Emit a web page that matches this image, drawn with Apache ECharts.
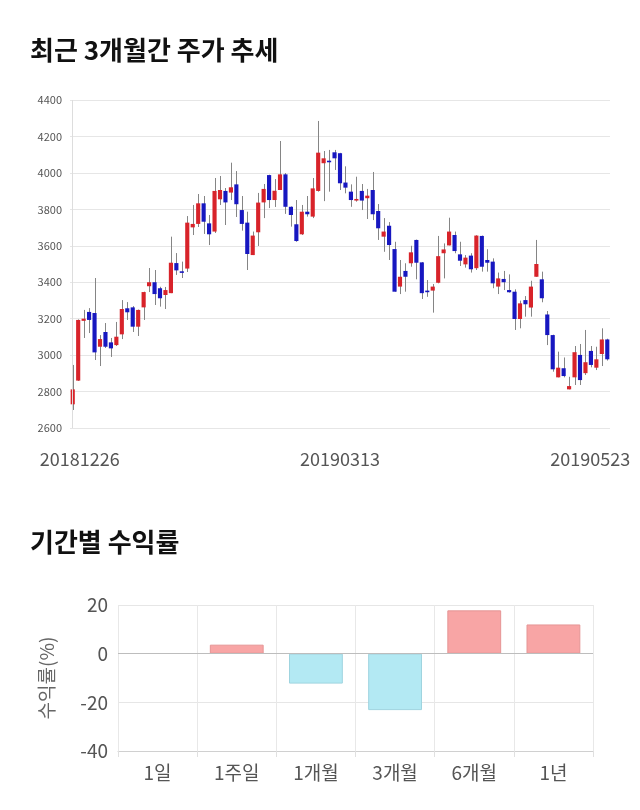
<!DOCTYPE html>
<html><head><meta charset="utf-8">
<script src="https://cdn.jsdelivr.net/npm/echarts@6/dist/echarts.min.js"></script>
<style>html,body{margin:0;padding:0;background:#fff}#c{width:640px;height:810px}</style>
</head><body><div id="c"></div>
<script>
const dates = ['20181226','20181227','20181228',
'20190102','20190103','20190104','20190107','20190108','20190109','20190110','20190111','20190114','20190115','20190116','20190117','20190118','20190121','20190122','20190123','20190124','20190125','20190128','20190129','20190130','20190131',
'20190201','20190207','20190208','20190211','20190212','20190213','20190214','20190215','20190218','20190219','20190220','20190221','20190222','20190225','20190226','20190227','20190228',
'20190304','20190305','20190306','20190307','20190308','20190311','20190312','20190313','20190314','20190315','20190318','20190319','20190320','20190321','20190322','20190325','20190326','20190327','20190328','20190329',
'20190401','20190402','20190403','20190404','20190405','20190408','20190409','20190410','20190411','20190412','20190415','20190416','20190417','20190418','20190419','20190422','20190423','20190424','20190425','20190426','20190429','20190430',
'20190502','20190503','20190507','20190508','20190509','20190510','20190513','20190514','20190515','20190516','20190517','20190520','20190521','20190522','20190523'];
const opens = [2730,2860,3188,3237,3231,3046,3127,3070,3055,3114,3257,3262,3156,3262,3378,3400,3367,3330,3340,3505,3460,3475,3701,3720,3833,
3723,3678,3855,3901,3892,3937,3796,3727,3549,3674,3838,3988,3851,3906,3992,3814,3718,3663,3787,3760,3901,4053,4067,4113,4108,
3947,3897,3848,3901,3861,3906,3791,3650,3710,3582,3376,3462,3504,3632,3509,3354,3354,3397,3559,3602,3659,3553,3498,3546,3477,
3654,3522,3513,3376,3418,3357,3348,3198,3302,3261,3430,3416,3223,3110,2878,2928,2812,2878,3001,2901,3023,2931,3006,3086];
const closes = [2812,3193,3200,3193,3015,3088,3046,3037,3101,3253,3235,3156,3248,3346,3400,3335,3312,3357,3507,3465,3455,3727,3720,3833,3732,
3663,3901,3906,3838,3921,3828,3720,3555,3656,3837,3912,3851,3902,3992,3814,3769,3626,3787,3773,3915,4111,4080,4062,4080,3943,
3919,3851,3857,3848,3875,3773,3696,3678,3604,3348,3430,3430,3564,3507,3340,3346,3376,3543,3580,3678,3571,3518,3535,3471,3656,
3485,3507,3394,3421,3400,3345,3198,3284,3279,3376,3500,3312,3110,2922,2931,2885,2830,3016,2863,2961,2946,2977,3086,2977];
const lows = [2699,2858,3094,3121,2973,2940,3039,2990,3050,3088,3193,3127,3105,3193,3346,3275,3266,3253,3340,3440,3423,3456,3659,3703,3665,
3604,3670,3824,3714,3851,3758,3683,3467,3549,3599,3752,3807,3813,3906,3775,3705,3622,3659,3760,3752,3897,3845,3897,4016,3906,
3888,3814,3842,3796,3747,3741,3632,3567,3522,3348,3335,3348,3485,3416,3308,3320,3233,3394,3421,3602,3559,3489,3480,3453,3467,
3458,3458,3367,3335,3357,3343,3138,3147,3211,3211,3430,3290,3055,2909,2878,2878,2812,2836,2836,2891,2933,2918,2940,2970];
const highs = [2946,3196,3248,3258,3423,3110,3176,3094,3182,3302,3291,3269,3250,3348,3478,3467,3375,3374,3650,3560,3513,3763,3824,3884,3873,
3769,3972,3983,3917,4056,4010,3873,3787,3678,3890,3939,3990,3966,4175,3999,3816,3851,3824,3873,3972,4285,4120,4126,4126,4110,
4036,3937,3979,3939,3912,4005,3829,3752,3730,3622,3522,3504,3600,3634,3511,3412,3390,3654,3613,3754,3678,3622,3549,3559,3658,
3656,3581,3531,3453,3462,3443,3361,3299,3324,3408,3632,3458,3242,3112,3019,2987,2881,3050,3061,3138,3050,3046,3147,3090];
const priceMin = 2600, priceMax = 4400, priceStep = 200;
const dateLabelIdx = [0, 49, 98];

const periods = ['1일','1주일','1개월','3개월','6개월','1년'];
const returns = [0, 3.7, -12.3, -23.2, 17.8, 12.0];
const retMin = -40, retMax = 20, retStep = 20;

const FONT = 'Noto Sans CJK KR';
const UP = '#d8232a', DOWN = '#1717c0';

const candleData = dates.map((d, i) => [i, opens[i], closes[i], lows[i], highs[i]]);

function renderCandle(params, api) {
  const i = api.value(0), o = api.value(1), c = api.value(2), l = api.value(3), h = api.value(4);
  const pH = api.coord([i, h]), pL = api.coord([i, l]);
  const pO = api.coord([i, o]), pC = api.coord([i, c]);
  const w = api.size([1, 0])[0] * 0.76;
  const up = c >= o;
  const top = Math.min(pO[1], pC[1]);
  let hg = Math.abs(pO[1] - pC[1]);
  if (hg < 1.6) hg = 1.6;
  const x = Math.round(pO[0]) + 0.5;
  return {
    type: 'group',
    children: [
      { type: 'line', shape: { x1: x, y1: pH[1], x2: x, y2: pL[1] }, style: { stroke: '#858585', lineWidth: 1 } },
      { type: 'rect', shape: { x: pO[0] - w / 2, y: top, width: w, height: hg }, style: { fill: up ? UP : DOWN } }
    ]
  };
}

function barStyle(v) {
  if (v === 0) return { color: 'transparent', borderWidth: 0 };
  return v > 0
    ? { color: '#f8a5a5', borderColor: '#e59595', borderWidth: 1 }
    : { color: '#b3e9f3', borderColor: '#9fd4df', borderWidth: 1 };
}

const chart = echarts.init(document.getElementById('c'), null, { renderer: 'canvas' });
chart.setOption({
  animation: false,
  backgroundColor: '#fff',
  textStyle: { fontFamily: FONT },
  title: [
    { text: '최근 3개월간 주가 추세', left: 25, top: 32, textStyle: { fontFamily: FONT, fontSize: 26, fontWeight: 'bold', color: '#111' } },
    { text: '기간별 수익률', left: 25, top: 524, textStyle: { fontFamily: FONT, fontSize: 26, fontWeight: 'bold', color: '#111' } }
  ],
  grid: [
    { left: 70, right: 30, top: 100, height: 328 },
    { left: 118, right: 47, top: 605, height: 146 }
  ],
  xAxis: [
    {
      gridIndex: 0, type: 'category', data: dates, boundaryGap: true,
      axisLine: { show: false }, axisTick: { show: false }, splitLine: { show: false },
      axisLabel: {
        interval: (idx) => dateLabelIdx.includes(idx),
        fontFamily: FONT, fontSize: 18, color: '#555', margin: 22,
        formatter: (v, idx) => idx === 0 ? '{a|' + v + '}' : (idx === dates.length - 1 ? '{c|' + v + '}' : '{b|' + v + '}'),
        rich: {
          a: { fontFamily: FONT, fontSize: 18, color: '#555', padding: [0, 0, 0, 14] },
          b: { fontFamily: FONT, fontSize: 18, color: '#555' },
          c: { fontFamily: FONT, fontSize: 18, color: '#555', padding: [0, 34, 0, 0] }
        }
      }
    },
    {
      gridIndex: 1, type: 'category', data: periods, boundaryGap: true,
      axisLine: { show: true, onZero: false, lineStyle: { color: '#d0d0d0' } },
      axisTick: { show: true, length: 6, lineStyle: { color: '#e0e0e0' } },
      splitLine: { show: true, lineStyle: { color: '#e8e8e8' } },
      axisLabel: { fontFamily: FONT, fontSize: 19, color: '#555', margin: 12 }
    }
  ],
  yAxis: [
    {
      gridIndex: 0, type: 'value', min: priceMin, max: priceMax, interval: priceStep,
      axisLine: { show: false }, axisTick: { show: false },
      splitLine: { lineStyle: { color: '#e6e6e6' } },
      axisLabel: { fontFamily: FONT, fontSize: 11, color: '#555', margin: 8, formatter: (v) => String(v) }
    },
    {
      gridIndex: 1, type: 'value', min: retMin, max: retMax, interval: retStep,
      axisLine: { show: false }, axisTick: { show: false },
      splitLine: { lineStyle: { color: '#e6e6e6' } },
      axisLabel: { fontFamily: FONT, fontSize: 19, color: '#555', margin: 10 },
      name: '수익률(%)', nameLocation: 'middle', nameGap: 62,
      nameTextStyle: { fontFamily: FONT, fontSize: 19, color: '#666' }
    }
  ],
  series: [
    {
      type: 'line', xAxisIndex: 0, yAxisIndex: 0, data: [], silent: true,
      markLine: {
        silent: true, symbol: 'none', label: { show: false },
        lineStyle: { color: '#dddddd', type: 'solid', width: 1 },
        data: [{ xAxis: dates[0] }]
      }
    },
    {
      type: 'custom', xAxisIndex: 0, yAxisIndex: 0,
      renderItem: renderCandle,
      encode: { x: 0, y: [1, 2, 3, 4] },
      data: candleData
    },
    {
      type: 'bar', xAxisIndex: 1, yAxisIndex: 1, barWidth: '68%',
      data: returns.map(v => ({ value: v, itemStyle: barStyle(v) })),
      markLine: {
        silent: true, symbol: 'none', label: { show: false },
        lineStyle: { color: '#bdbdbd', type: 'solid', width: 1 },
        data: [{ yAxis: 0 }]
      }
    }
  ]
});
</script>
</body></html>
